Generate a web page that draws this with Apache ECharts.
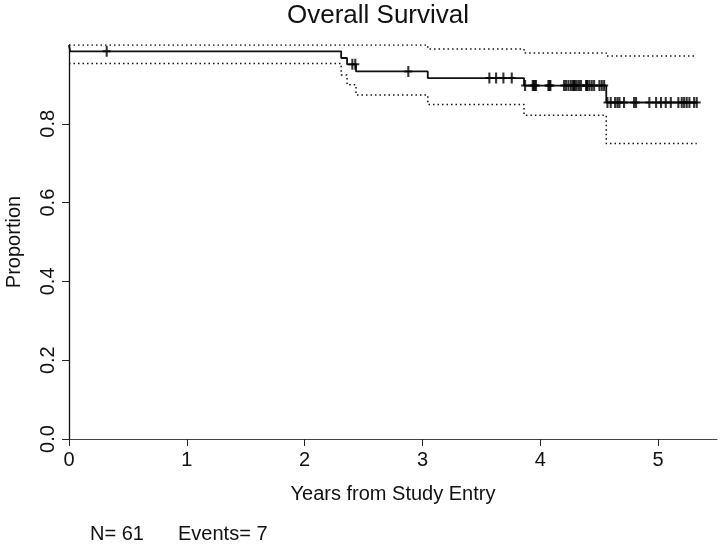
<!DOCTYPE html>
<html>
<head>
<meta charset="utf-8">
<script src="https://cdn.jsdelivr.net/npm/echarts@6/dist/echarts.min.js"></script>
<style>
html,body{margin:0;padding:0;background:#fff;}
#chart{width:720px;height:548px;}
</style>
</head>
<body>
<div id="chart"></div>
<script>
// ---- Data ----
const stepTimes    = [0, 0.01, 2.31, 2.36, 2.436, 3.045, 3.862, 4.56, 5.328];
const survival     = [1.0, 0.984, 0.967, 0.951, 0.933, 0.916, 0.897, 0.854, 0.854];
const ciTimes      = [0, 2.31, 2.36, 2.436, 3.045, 3.862, 4.56, 5.328];
const ciLower      = [0.953, 0.924, 0.899, 0.873, 0.849, 0.822, 0.750, 0.750];
const ciUpper      = [1.0, 1.0, 1.0, 1.0, 0.990, 0.980, 0.972, 0.972];
const censorTimes  = [0.32, 2.405, 2.43, 2.88, 3.568, 3.625, 3.687, 3.758,
  3.871, 3.936, 3.945, 3.953, 3.964, 4.069, 4.078, 4.086, 4.202, 4.219, 4.239,
  4.259, 4.276, 4.285, 4.295, 4.310, 4.329, 4.346, 4.389, 4.395, 4.400, 4.417,
  4.437, 4.457, 4.502, 4.522, 4.542,
  4.570, 4.598, 4.635, 4.655, 4.672, 4.711, 4.796, 4.813, 4.926, 4.983, 5.025,
  5.065, 5.108, 5.172, 5.201, 5.221, 5.243, 5.266, 5.306, 5.328];
const xTicks = [0, 1, 2, 3, 4, 5];
const yTicks = [0, 0.2, 0.4, 0.6, 0.8];
const titleText = 'Overall Survival';
const xTitle = 'Years from Study Entry';
const yTitle = 'Proportion';
const nText = 'N= 61';
const eventsText = 'Events= 7';

// ---- Build series data ----
function survAt(t) {
  let v = survival[0];
  for (let i = 0; i < stepTimes.length; i++) { if (stepTimes[i] <= t) v = survival[i]; }
  return v;
}
const kmData = stepTimes.map((t, i) => [t, survival[i]]);
const lowData = ciTimes.map((t, i) => [t, ciLower[i]]);
const upData = ciTimes.map((t, i) => [t, ciUpper[i]]);
const censorData = censorTimes.map(t => [t, survAt(t)]);

const FONT = '"Liberation Sans", Arial, Helvetica, sans-serif';
const plusPath = 'path://M3.7,0 H6.3 V4.1 H10 V5.9 H6.3 V10 H3.7 V5.9 H0 V4.1 H3.7 Z';

const chart = echarts.init(document.getElementById('chart'), null, {renderer: 'canvas'});
chart.setOption({
  animation: false,
  backgroundColor: '#ffffff',
  grid: {left: 69, right: 3, top: 45, bottom: 109, containLabel: false},
  xAxis: {
    type: 'value', min: 0, max: 5.5,
    splitLine: {show: false},
    axisLine: {show: true, onZero: false, lineStyle: {color: '#444', width: 1}},
    axisTick: {show: true, length: 7, customValues: xTicks, lineStyle: {color: '#222', width: 1}},
    axisLabel: {customValues: xTicks, fontSize: 20, fontFamily: FONT, color: '#111', margin: 11}
  },
  yAxis: {
    type: 'value', min: 0, max: 1,
    splitLine: {show: false},
    axisLine: {show: true, onZero: false, lineStyle: {color: '#111', width: 1.3}},
    axisTick: {show: true, length: 7, customValues: yTicks, lineStyle: {color: '#222', width: 1}},
    axisLabel: {customValues: yTicks, rotate: 90, fontSize: 20, fontFamily: FONT, color: '#111', margin: 11,
      formatter: v => v.toFixed(1)}
  },
  series: [
    {type: 'line', data: upData, step: 'end', symbol: 'none',
     lineStyle: {color: '#111', width: 1.5, type: [1.5, 3]}, z: 2},
    {type: 'line', data: lowData, step: 'end', symbol: 'none',
     lineStyle: {color: '#111', width: 1.5, type: [1.5, 3]}, z: 2},
    {type: 'line', data: kmData, step: 'end', symbol: 'none',
     lineStyle: {color: '#111', width: 1.8}, z: 3},
    {type: 'scatter', data: censorData, symbol: plusPath, symbolSize: [8, 11],
     itemStyle: {color: '#000'}, z: 4}
  ],
  graphic: [
    {type: 'text', style: {text: titleText, x: 378, y: 16, textAlign: 'center', textVerticalAlign: 'middle',
      font: '26px ' + FONT, fill: '#111'}},
    {type: 'text', style: {text: xTitle, x: 393, y: 494, textAlign: 'center', textVerticalAlign: 'middle',
      font: '20px ' + FONT, fill: '#111'}},
    {type: 'text', rotation: Math.PI / 2, x: 14, y: 242, style: {text: yTitle, x: 0, y: 0, textAlign: 'center', textVerticalAlign: 'middle',
      font: '20px ' + FONT, fill: '#111'}},
    {type: 'text', style: {text: nText, x: 90, y: 534, textAlign: 'left', textVerticalAlign: 'middle',
      font: '20px ' + FONT, fill: '#111'}},
    {type: 'text', style: {text: eventsText, x: 178, y: 534, textAlign: 'left', textVerticalAlign: 'middle',
      font: '20px ' + FONT, fill: '#111'}}
  ]
});
</script>
</body>
</html>
